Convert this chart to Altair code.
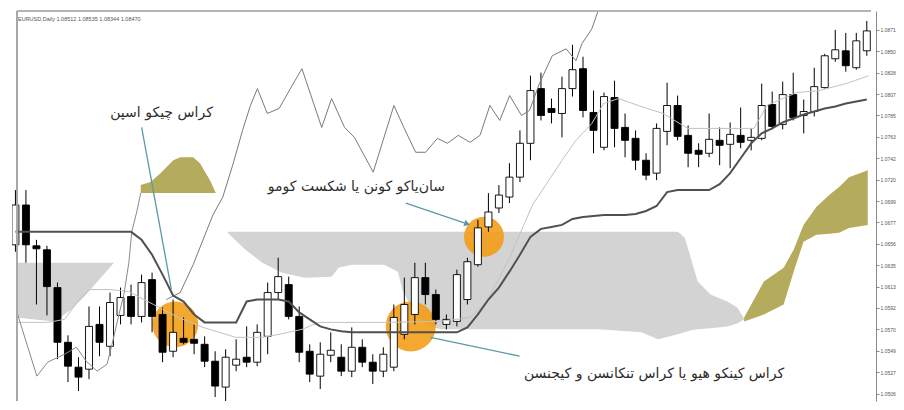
import altair as alt
import pandas as pd

# ---------------- data (prices) ----------------
bar_index = list(range(-1, 81))

open_ = [1.0655, 1.0695, 1.0654, 1.0650, 1.0612, 1.0557, 1.0532, 1.0530, 1.0575, 1.0553,
         1.0584, 1.0603, 1.0583, 1.0620, 1.0585, 1.0548, 1.0561, 1.0560, 1.0555, 1.0538,
         1.0512, 1.0534, 1.0542, 1.0537, 1.0563, 1.0607, 1.0615, 1.0583, 1.0548, 1.0523,
         1.0544, 1.0542, 1.0528, 1.0552, 1.0537, 1.0528, 1.0532, 1.0565, 1.0585, 1.0622,
         1.0605, 1.0575, 1.0578, 1.0600, 1.0635, 1.0673, 1.0692, 1.0703, 1.0723, 1.0757,
         1.0812, 1.0792, 1.0787, 1.0812, 1.0832, 1.0788, 1.0753, 1.0803, 1.0773, 1.0762,
         1.0740, 1.0727, 1.0769, 1.0795, 1.0765, 1.0750, 1.0747, 1.0760, 1.0756, 1.0765,
         1.0760, 1.0762, 1.0796, 1.0776, 1.0806, 1.0785, 1.0789, 1.0813, 1.0842, 1.0850,
         1.0833, 1.0850]
high = [1.0710, 1.0710, 1.0660, 1.0654, 1.0617, 1.0564, 1.0542, 1.0593, 1.0593, 1.0607,
        1.0612, 1.0615, 1.0625, 1.0627, 1.0592, 1.0600, 1.0582, 1.0575, 1.0563, 1.0548,
        1.0550, 1.0560, 1.0573, 1.0575, 1.0617, 1.0642, 1.0623, 1.0593, 1.0555, 1.0557,
        1.0567, 1.0555, 1.0572, 1.0560, 1.0545, 1.0552, 1.0595, 1.0622, 1.0637, 1.0637,
        1.0610, 1.0585, 1.0630, 1.0642, 1.0680, 1.0707, 1.0715, 1.0737, 1.0770, 1.0825,
        1.0828, 1.0802, 1.0824, 1.0856, 1.0844, 1.0810, 1.0808, 1.0820, 1.0787, 1.0770,
        1.0747, 1.0777, 1.0818, 1.0805, 1.0775, 1.0757, 1.0787, 1.0773, 1.0778, 1.0793,
        1.0772, 1.0817, 1.0809, 1.0819, 1.0828, 1.0801, 1.0833, 1.0847, 1.0871, 1.0868,
        1.0868, 1.0880]
low = [1.0648, 1.0637, 1.0595, 1.0584, 1.0540, 1.0517, 1.0508, 1.0520, 1.0543, 1.0543,
       1.0575, 1.0575, 1.0577, 1.0567, 1.0537, 1.0542, 1.0555, 1.0545, 1.0532, 1.0502,
       1.0492, 1.0528, 1.0532, 1.0533, 1.0545, 1.0600, 1.0580, 1.0537, 1.0517, 1.0510,
       1.0537, 1.0523, 1.0522, 1.0532, 1.0515, 1.0522, 1.0528, 1.0560, 1.0575, 1.0595,
       1.0575, 1.0570, 1.0573, 1.0595, 1.0633, 1.0668, 1.0687, 1.0697, 1.0718, 1.0740,
       1.0780, 1.0777, 1.0763, 1.0804, 1.0783, 1.0747, 1.0750, 1.0753, 1.0743, 1.0730,
       1.0720, 1.0720, 1.0755, 1.0760, 1.0733, 1.0733, 1.0743, 1.0735, 1.0732, 1.0752,
       1.0750, 1.0760, 1.0771, 1.0771, 1.0780, 1.0767, 1.0784, 1.0812, 1.0839, 1.0829,
       1.0831, 1.0845]
close = [1.0695, 1.0655, 1.0651, 1.0613, 1.0557, 1.0533, 1.0522, 1.0573, 1.0557, 1.0597,
         1.0602, 1.0583, 1.0617, 1.0583, 1.0547, 1.0567, 1.0557, 1.0556, 1.0538, 1.0513,
         1.0542, 1.0540, 1.0537, 1.0567, 1.0607, 1.0623, 1.0583, 1.0547, 1.0525, 1.0545,
         1.0549, 1.0528, 1.0552, 1.0537, 1.0528, 1.0545, 1.0582, 1.0595, 1.0622, 1.0605,
         1.0580, 1.0580, 1.0625, 1.0638, 1.0672, 1.0688, 1.0705, 1.0723, 1.0757, 1.0810,
         1.0785, 1.0788, 1.0812, 1.0831, 1.0790, 1.0770, 1.0804, 1.0772, 1.0760, 1.0740,
         1.0725, 1.0772, 1.0795, 1.0764, 1.0747, 1.0746, 1.0761, 1.0755, 1.0766, 1.0758,
         1.0763, 1.0795, 1.0774, 1.0806, 1.0783, 1.0789, 1.0814, 1.0845, 1.0851, 1.0835,
         1.0860, 1.0870]
kijun = [1.0668, 1.0668, 1.0668, 1.0668, 1.0668, 1.0668, 1.0668, 1.0668, 1.0668, 1.0668,
         1.0668, 1.0668, 1.0660, 1.0645, 1.0625, 1.0604, 1.0598, 1.0585, 1.0577, 1.0577,
         1.0577, 1.0577, 1.0598, 1.0600, 1.0600, 1.0600, 1.0598, 1.0587, 1.0580, 1.0573,
         1.0570, 1.0568, 1.0567, 1.0567, 1.0567, 1.0567, 1.0567, 1.0567, 1.0567, 1.0567,
         1.0567, 1.0567, 1.0567, 1.0572, 1.0585, 1.0600, 1.0612, 1.0628, 1.0645, 1.0663,
         1.0671, 1.0673, 1.0675, 1.0681, 1.0683, 1.0684, 1.0685, 1.0685, 1.0685, 1.0686,
         1.0689, 1.0694, 1.0708, 1.0710, 1.0710, 1.0710, 1.0710, 1.0716, 1.0727, 1.0742,
         1.0757, 1.0767, 1.0772, 1.0778, 1.0782, 1.0786, 1.0789, 1.0792, 1.0794, 1.0797,
         1.0799, 1.0801]

tenkan_x = [-0.85, 2.07, 3.67, 5.08, 6.02, 8.09, 9.79, 12.14, 14.49, 16.85, 19.95, 22.49,
            24.09, 26.26, 27.86, 34.07, 39.44, 42.26, 43.86, 46.02, 48.19, 49.13, 51.01,
            52.33, 53.84, 54.96, 56.38, 58.26, 60.61, 62.96, 69.27, 70.49, 73.32, 75.48,
            78.02, 80.19]
tenkan_y = [1.0577, 1.0577, 1.0580, 1.0600, 1.0610, 1.0610, 1.0608, 1.0595, 1.0582, 1.0572,
            1.0562, 1.0562, 1.0565, 1.0570, 1.0577, 1.0577, 1.0578, 1.0582, 1.0598, 1.0642,
            1.0695, 1.0710, 1.0740, 1.0760, 1.0777, 1.0797, 1.0802, 1.0795, 1.0787, 1.0772,
            1.0772, 1.0795, 1.0808, 1.0810, 1.0817, 1.0825]

lag_left_x = [-0.85, 1.04, 2.07, 3.67, 4.8, 5.74, 6.78, 7.72, 8.19, 8.85, 9.32, 9.79,
              10.07, 10.54, 10.92]
lag_left_y = [1.0587, 1.0523, 1.0537, 1.0545, 1.0552, 1.0538, 1.0528, 1.0535, 1.0555,
              1.0585, 1.0605, 1.0637, 1.0668, 1.0688, 1.0707]

lag_x = [13.36, 14.68, 15.91, 16.85, 17.79, 18.73, 19.67, 20.61, 21.36, 22.02, 22.96,
         24.09, 25.32, 26.26, 28.14, 29.08, 30.31, 31.25, 33.04, 33.98, 35.01, 35.95,
         37.08, 38.02, 39.15, 40.09, 41.13, 42.26, 43.2, 44.14, 45.08, 46.02, 47.15,
         47.91, 48.85, 50.07, 51.39, 52.33, 52.89, 53.84, 54.49]
lag_y = [1.0600, 1.0607, 1.0635, 1.0660, 1.0685, 1.0703, 1.0735, 1.0770, 1.0795, 1.0812,
         1.0787, 1.0792, 1.0815, 1.0832, 1.0773, 1.0802, 1.0773, 1.0763, 1.0728, 1.0760,
         1.0795, 1.0773, 1.0748, 1.0748, 1.0762, 1.0757, 1.0765, 1.0758, 1.0765, 1.0795,
         1.0780, 1.0805, 1.0785, 1.0790, 1.0817, 1.0845, 1.0852, 1.0840, 1.0857, 1.0872,
         1.0892]

# cloud pieces
gray1_x = [-0.85, 0.85, 2.73, 4.33, 5.55, 6.97, 8.38]
gray1_top = [1.0637, 1.0637, 1.0637, 1.0637, 1.0637, 1.0637, 1.0637]
gray1_bot = [1.0582, 1.0580, 1.0578, 1.0590, 1.0603, 1.0620, 1.0637]

olive1_x = [10.92, 11.86, 12.8, 14.02, 14.68, 15.91, 16.56, 17.51, 18.07]
olive1_top = [1.0715, 1.0718, 1.0727, 1.0740, 1.0743, 1.0743, 1.0737, 1.0720, 1.0707]
olive1_bot = [1.0707, 1.0707, 1.0707, 1.0707, 1.0707, 1.0707, 1.0707, 1.0707, 1.0707]

gray2_x = [19.2, 20.89, 22.49, 24.38, 26.54, 29.08, 29.74, 30.96, 34.07, 35.39, 35.86,
           37.08, 38.02, 39.44, 54.49, 58.54, 60.14, 62.02, 62.68, 63.25, 63.91, 65.13,
           66.73, 67.67, 68.33]
gray2_top = [1.0668, 1.0668, 1.0668, 1.0668, 1.0668, 1.0668, 1.0668, 1.0668, 1.0668, 1.0668,
             1.0668, 1.0668, 1.0668, 1.0668, 1.0668, 1.0668, 1.0668, 1.0668, 1.0662, 1.0642,
             1.0618, 1.0605, 1.0598, 1.0592, 1.0581]
gray2_bot = [1.0667, 1.0650, 1.0637, 1.0627, 1.0622, 1.0623, 1.0632, 1.0635, 1.0635, 1.0628,
             1.0608, 1.0585, 1.0575, 1.0570, 1.0570, 1.0567, 1.0560, 1.0565, 1.0567, 1.0569,
             1.0570, 1.0571, 1.0573, 1.0576, 1.0580]

olive2_x = [68.33, 70.21, 72.09, 73.04, 73.98, 75.2, 76.42, 77.36, 78.31, 80.09]
olive2_top = [1.0582, 1.0618, 1.0632, 1.0650, 1.0675, 1.0693, 1.0705, 1.0713, 1.0723, 1.0730]
olive2_bot = [1.0578, 1.0585, 1.0595, 1.0628, 1.0658, 1.0665, 1.0666, 1.0667, 1.0672, 1.0675]

# highlight circles
circle_x = [14.21, 36.61, 43.58]
circle_y = [1.0575, 1.0573, 1.0663]

# annotations
label_text = ["کراس چیکو اسپن", "سان‌یاکو کونن یا شکست کومو",
              "کراس کینکو هیو یا کراس تنکانسن و کیجنسن"]
label_x = [12.9, 31.44, 59.76]
label_y = [1.0787, 1.0713, 1.0525]

pointer_x1 = [11.01, 36.14, 38.49]
pointer_y1 = [1.0773, 1.0697, 1.0562]
pointer_x2 = [13.84, 41.98, 46.96]
pointer_y2 = [1.0610, 1.0676, 1.0543]

price_ticks = [1.08710, 1.08495, 1.08280, 1.08065, 1.07850, 1.07635, 1.07420, 1.07205,
               1.06990, 1.06775, 1.06560, 1.06345, 1.06130, 1.05915, 1.05700, 1.05485,
               1.05270, 1.05055]

chart_title = "EURUSD,Daily  1.08512 1.08535 1.08344 1.08470"

# ---------------- chart ----------------
X_DOM = [-0.85, 80.4]
Y_DOM = [1.0498, 1.0890]
xs = alt.Scale(domain=X_DOM, nice=False, zero=False)
ys = alt.Scale(domain=Y_DOM, nice=False, zero=False)
yaxis = alt.Axis(orient="right", values=price_ticks, format=".4f", labelFontSize=5,
                 tickSize=3, labelPadding=1, domainColor="#8a8a8a", tickColor="#8a8a8a",
                 labelColor="#555555", grid=False, title=None, labelFont="Liberation Sans")


def X(f):
    return alt.X(f, type="quantitative", scale=xs, axis=None)


def Y(f):
    return alt.Y(f, type="quantitative", scale=ys, axis=yaxis)


candles = pd.DataFrame({"i": bar_index, "open": open_, "high": high, "low": low, "close": close})
kij = pd.DataFrame({"i": bar_index, "v": kijun})
ten = pd.DataFrame({"i": tenkan_x, "v": tenkan_y})
lagl = pd.DataFrame({"i": lag_left_x, "v": lag_left_y})
lagr = pd.DataFrame({"i": lag_x, "v": lag_y})
circ = pd.DataFrame({"i": circle_x, "v": circle_y})
labels = pd.DataFrame({"i": label_x, "v": label_y, "t": label_text})
pointers = pd.DataFrame({"i": pointer_x1, "v": pointer_y1, "i2": pointer_x2, "v2": pointer_y2})
frame = pd.DataFrame({"i": [X_DOM[0]], "i2": [X_DOM[1]], "v": [Y_DOM[1]], "v2": [Y_DOM[0]]})


def cloud(xv, top, bot, color):
    df = pd.DataFrame({"i": xv, "top": top, "bot": bot})
    return alt.Chart(df).mark_area(color=color, clip=True).encode(
        x=X("i"), y=Y("top"), y2=alt.Y2("bot"))


layers = [
    cloud(gray1_x, gray1_top, gray1_bot, "#d3d3d3"),
    cloud(olive1_x, olive1_top, olive1_bot, "#b5ab5c"),
    cloud(gray2_x, gray2_top, gray2_bot, "#d3d3d3"),
    cloud(olive2_x, olive2_top, olive2_bot, "#b5ab5c"),
]

for k, sz in enumerate([2100, 2500, 1600]):
    layers.append(
        alt.Chart(circ.iloc[[k]]).mark_point(shape="circle", filled=True, size=sz,
                                             color="#f39c12", opacity=0.88).encode(
            x=X("i"), y=Y("v")))

# candles
layers.append(alt.Chart(candles).mark_rule(color="black", strokeWidth=1, clip=True).encode(
    x=X("i"), y=Y("low"), y2=alt.Y2("high")))
layers.append(alt.Chart(candles).mark_bar(size=7, stroke="black", strokeWidth=0.9, clip=True).encode(
    x=X("i"), y=Y("open"), y2=alt.Y2("close"),
    fill=alt.condition("datum.close >= datum.open", alt.value("white"), alt.value("black"))))

# indicator lines
layers.append(alt.Chart(ten).mark_line(color="#c2c2c2", strokeWidth=1, clip=True).encode(
    x=X("i"), y=Y("v")))
layers.append(alt.Chart(lagl).mark_line(color="#8a8a8a", strokeWidth=1, clip=True).encode(
    x=X("i"), y=Y("v")))
layers.append(alt.Chart(lagr).mark_line(color="#7a7a7a", strokeWidth=1, clip=True).encode(
    x=X("i"), y=Y("v")))
layers.append(alt.Chart(kij).mark_line(color="#505050", strokeWidth=2, clip=True).encode(
    x=X("i"), y=Y("v")))

# pointers
layers.append(alt.Chart(pointers).mark_rule(color="#5a9ba3", strokeWidth=1.3).encode(
    x=X("i"), y=Y("v"), x2=alt.X2("i2"), y2=alt.Y2("v2")))
layers.append(alt.Chart(pointers.iloc[[1]]).mark_point(
    shape="triangle-right", filled=True, size=45, angle=19, color="#5a9ba3", opacity=1).encode(
    x=X("i2"), y=Y("v2")))

# texts
layers.append(alt.Chart(labels).mark_text(font="DejaVu Sans", fontSize=14, color="#2e2e2e",
                                          align="center", baseline="middle").encode(
    x=X("i"), y=Y("v"), text="t:N"))

# frame borders
layers.append(alt.Chart(frame).mark_rule(color="#b4b4b4", strokeWidth=2).encode(
    x=X("i"), x2=alt.X2("i2"), y=Y("v")))
layers.append(alt.Chart(frame).mark_rule(color="#a8a8a8", strokeWidth=2).encode(
    x=X("i"), y=Y("v"), y2=alt.Y2("v2")))

layers.append(alt.Chart(pd.DataFrame({"t": [chart_title]})).mark_text(
    font="Liberation Sans", fontSize=5.5, color="#555555", align="left", baseline="middle").encode(
    x=alt.value(6), y=alt.value(8), text="t:N"))

chart = alt.layer(*layers).properties(
    width=888, height=394,
    autosize=alt.AutoSizeParams(type="fit", contains="padding"),
    padding={"left": 4, "top": 2, "right": 0, "bottom": 0},
    background="white",
).configure_view(strokeWidth=0)

chart.save("out.html", embed_options={"renderer": "svg", "actions": False})
